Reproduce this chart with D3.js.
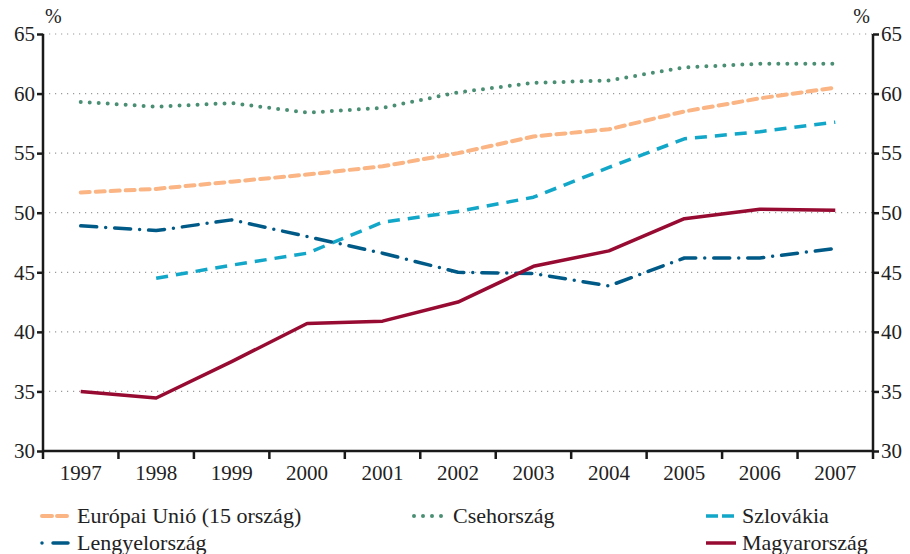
<!DOCTYPE html>
<html>
<head>
<meta charset="utf-8">
<script src="https://cdn.jsdelivr.net/npm/d3@7"></script>
<style>
  body { margin: 0; background: #fff; }
  svg text { font-family: "Liberation Serif", "DejaVu Serif", serif; fill: #222; }
</style>
</head>
<body>
<svg id="chart" width="910" height="554"></svg>
<script>
// data ---------------------------------------------------------------
var years = ["1997","1998","1999","2000","2001","2002","2003","2004","2005","2006","2007"];
var yTicks = [30,35,40,45,50,55,60,65];

var eu15      = [51.7, 52.0, 52.6, 53.2, 53.9, 55.0, 56.4, 57.0, 58.5, 59.6, 60.5];
var cseh      = [59.3, 58.9, 59.2, 58.4, 58.8, 60.1, 60.9, 61.1, 62.2, 62.5, 62.5];
var szlovakia = [null, 44.5, 45.6, 46.6, 49.2, 50.1, 51.3, 53.8, 56.2, 56.8, 57.6];
var lengyel   = [48.9, 48.5, 49.4, 48.0, 46.6, 45.0, 44.9, 43.85, 46.2, 46.2, 47.0];
var magyar    = [35.0, 34.45, 37.5, 40.7, 40.9, 42.5, 45.5, 46.8, 49.5, 50.3, 50.2];

var series = [
  {name: "Európai Unió (15 ország)", values: eu15, color: "#fbb584", width: 4, dash: "9 6", cap: "round"},
  {name: "Csehország", values: cseh, color: "#4a8f74", width: 4, dash: "0 9", cap: "round"},
  {name: "Szlovákia", values: szlovakia, color: "#12a7c9", width: 3.5, dash: "12 8", cap: "butt"},
  {name: "Lengyelország", values: lengyel, color: "#005a87", width: 3.5, dash: "16 9 0 9", cap: "round"},
  {name: "Magyarország", values: magyar, color: "#970a31", width: 3.5, dash: null, cap: "butt"}
];

// layout -------------------------------------------------------------
var margin = {top: 34, right: 37, bottom: 103, left: 43};
var width = 910 - margin.left - margin.right,
    height = 554 - margin.top - margin.bottom;
var fontFam = "'Liberation Serif', 'DejaVu Serif', serif";

var svg = d3.select("#chart")
  .append("g")
  .attr("transform", "translate(" + margin.left + "," + margin.top + ")");

var x = d3.scaleBand().domain(years).range([0, width]);
var y = d3.scaleLinear().domain([30, 65]).range([height, 0]);

// grid
svg.append("g")
  .selectAll("line")
  .data(yTicks.filter(function(d){ return d > 30; }))
  .enter().append("line")
  .attr("x1", 0).attr("x2", width)
  .attr("y1", function(d){ return y(d); })
  .attr("y2", function(d){ return y(d); })
  .style("stroke", "#9a9a9a")
  .style("stroke-width", 1.2)
  .style("stroke-dasharray", "1.2 4.8");

// axes
var leftAxis = svg.append("g")
  .call(d3.axisLeft(y).tickValues(yTicks).tickSize(6).tickPadding(2));
var rightAxis = svg.append("g")
  .attr("transform", "translate(" + width + ",0)")
  .call(d3.axisRight(y).tickValues(yTicks).tickSize(6).tickPadding(2));

var bottomAxis = svg.append("g")
  .attr("transform", "translate(0," + height + ")")
  .call(d3.axisBottom(x).tickSize(0).tickPadding(14));
// ticks at category boundaries
bottomAxis.selectAll(".bound")
  .data(d3.range(years.length + 1))
  .enter().append("line")
  .attr("class", "bound")
  .attr("x1", function(i){ return i * x.step(); })
  .attr("x2", function(i){ return i * x.step(); })
  .attr("y1", 0).attr("y2", 8)
  .style("stroke", "#1a1a1a").style("stroke-width", 2.5);

[leftAxis, rightAxis, bottomAxis].forEach(function(a){
  a.attr("font-family", fontFam).attr("font-size", 21);
  a.selectAll("text").style("font-size", "21px").style("font-family", fontFam).attr("fill", "#222");
  a.selectAll(".tick line").style("stroke", "#1a1a1a").style("stroke-width", 2.5);
  a.select(".domain").remove();
});

svg.append("line").attr("x1", 0).attr("x2", 0).attr("y1", 0).attr("y2", height)
  .style("stroke", "#1a1a1a").style("stroke-width", 2.5);
svg.append("line").attr("x1", width).attr("x2", width).attr("y1", 0).attr("y2", height)
  .style("stroke", "#1a1a1a").style("stroke-width", 2.5);
svg.append("line").attr("x1", 0).attr("x2", width).attr("y1", height).attr("y2", height)
  .style("stroke", "#1a1a1a").style("stroke-width", 2.5);

// % labels
svg.append("text").attr("x", 2).attr("y", -11).style("font-size", "20px").text("%");
svg.append("text").attr("x", width - 3).attr("y", -11).attr("text-anchor", "end")
  .style("font-size", "20px").text("%");

// lines
var line = d3.line()
  .defined(function(d){ return d != null; })
  .x(function(d, i){ return x(years[i]) + x.bandwidth() / 2; })
  .y(function(d){ return y(d); });

series.forEach(function(s){
  svg.append("path")
    .datum(s.values)
    .attr("d", line)
    .style("fill", "none")
    .style("stroke", s.color)
    .style("stroke-width", s.width)
    .style("stroke-linecap", s.cap)
    .style("stroke-linejoin", "round")
    .style("stroke-dasharray", s.dash);
});

// legend
var legendPos = [
  {x: 0, y: 482}, {x: 373, y: 482}, {x: 664, y: 482},
  {x: 0, y: 509}, {x: 664, y: 509}
];
series.forEach(function(s, i){
  var g = svg.append("g")
    .attr("transform", "translate(" + legendPos[i].x + "," + legendPos[i].y + ")");
  var sw = i == 0 || i == 3 ? [-1, 28] : (i == 1 ? [-2, 31] : [-1, 29]);
  g.append("line")
    .attr("x1", sw[0]).attr("x2", sw[1]).attr("y1", 0).attr("y2", 0)
    .style("stroke", s.color)
    .style("stroke-width", s.width)
    .style("stroke-linecap", s.cap)
    .style("stroke-dasharray", i == 0 ? "10 5" : (i == 3 ? "0 11 15 0" : (i == 2 ? "12 4" : s.dash)));
  g.append("text")
    .attr("x", sw[1] + 6).attr("y", 7)
    .style("font-size", "22px")
    .text(s.name);
});
</script>
</body>
</html>
